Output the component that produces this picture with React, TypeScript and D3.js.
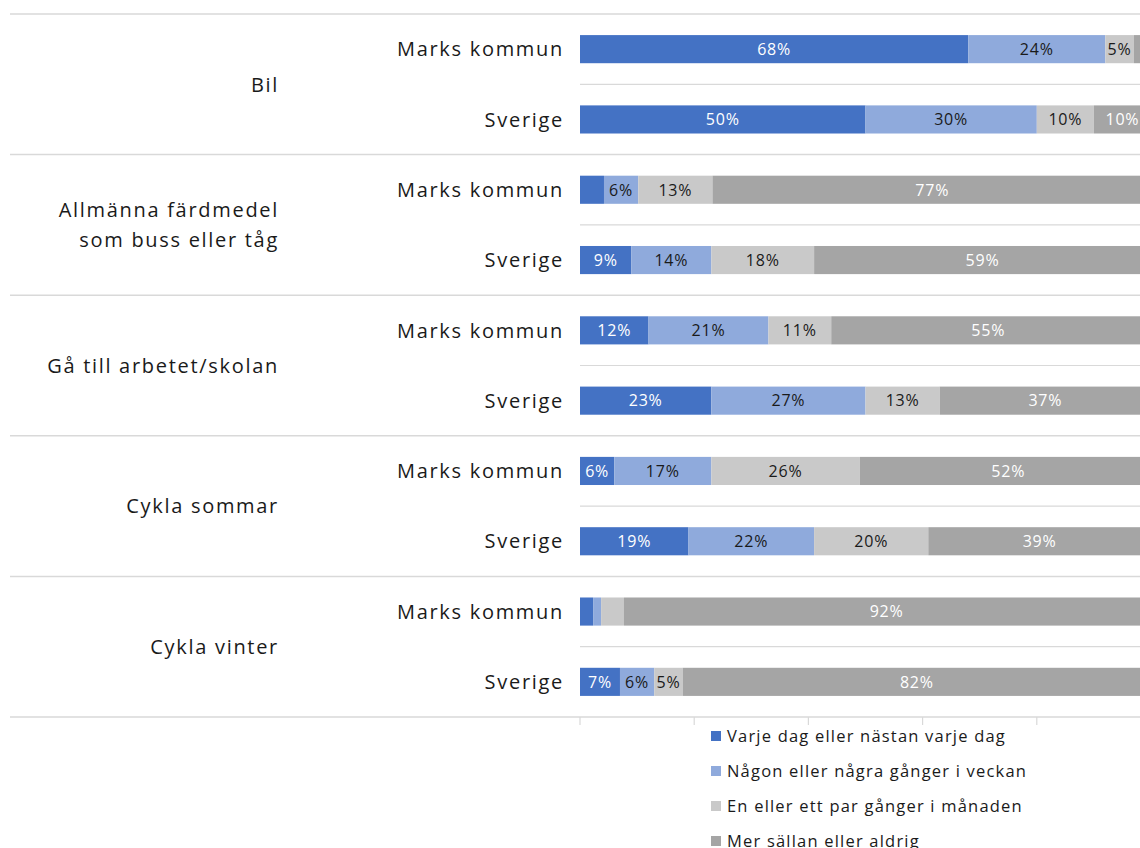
import React from "react";
import * as d3 from "d3";

const categories = ["Bil", "Allmänna färdmedel som buss eller tåg", "Gå till arbetet/skolan", "Cykla sommar", "Cykla vinter"];
const categoryLines = [["Bil"], ["Allmänna färdmedel", "som buss eller tåg"], ["Gå till arbetet/skolan"], ["Cykla sommar"], ["Cykla vinter"]];
const groups = ["Marks kommun", "Sverige"];
const seriesNames = [
  "Varje dag eller nästan varje dag",
  "Någon eller några gånger i veckan",
  "En eller ett par gånger i månaden",
  "Mer sällan eller aldrig",
];
// values[category][group] for each series
const varjeDag = [[68, 50], [4.2, 9], [12, 23], [6, 19], [2.3, 7]];
const naagonVecka = [[24, 30], [6, 14], [21, 27], [17, 22], [1.4, 6]];
const parManad = [[5, 10], [13, 18], [11, 13], [26, 20], [4, 5]];
const sallan = [[3, 10], [77, 59], [55, 37], [52, 39], [92, 82]];
const xTicks = [0, 20, 40, 60, 80, 100];

const colors = ["#4472C4", "#8FAADC", "#C9C9C9", "#A5A5A5"];
const labelColors = ["#FFFFFF", "#1A1A1A", "#1A1A1A", "#FFFFFF"];

export default function App() {
  const W = 1140, H = 848;
  const x = d3.scaleLinear().domain([0, 100]).range([580, 1151]);
  const yCat = d3.scaleBand().domain(categories).range([14, 717]).padding(0);
  const ySub = d3.scaleBand().domain(groups).range([0, yCat.bandwidth()]).paddingInner(0.6).paddingOuter(0.3);
  const seriesData = [varjeDag, naagonVecka, parManad, sallan];
  const font = "'Open Sans', sans-serif";
  const gridColor = "#D9D9D9";

  const bars: any[] = [];
  categories.forEach((cat, ci) => {
    groups.forEach((g, gi) => {
      let acc = 0;
      seriesData.forEach((s, si) => {
        const v = s[ci][gi];
        bars.push({ cat, g, si, v, x0: acc, x1: acc + v });
        acc += v;
      });
    });
  });

  return (
    <svg width={W} height={H} style={{ position: "absolute", left: 0, top: 0, overflow: "hidden" }} fontFamily={font}>
      <rect width={W} height={H} fill="#fff" />
      {categories.map((c, i) => (
        <line key={"sep" + i} x1={10} x2={W} y1={yCat(c)!} y2={yCat(c)!} stroke={gridColor} strokeWidth={1.5} />
      ))}
      {categories.map((c, i) => (
        <line key={"isep" + i} x1={580} x2={W} y1={yCat(c)! + yCat.bandwidth() / 2} y2={yCat(c)! + yCat.bandwidth() / 2} stroke={gridColor} strokeWidth={1.2} />
      ))}
      <line x1={10} x2={W} y1={717} y2={717} stroke={gridColor} strokeWidth={1.5} />
      {xTicks.map((t) => (
        <line key={"t" + t} x1={x(t)} x2={x(t)} y1={717} y2={725} stroke={gridColor} strokeWidth={1.2} />
      ))}
      {bars.map((b, i) => {
        const y0 = yCat(b.cat)! + ySub(b.g)!;
        const bw = ySub.bandwidth();
        return (
          <g key={"b" + i}>
            <rect x={x(b.x0)} y={y0} width={x(b.x1) - x(b.x0)} height={bw} fill={colors[b.si]} />
            {b.v >= 5 && (
              <text
                x={(x(b.x0) + x(b.x1)) / 2}
                y={y0 + bw / 2}
                dy="0.36em"
                textAnchor="middle"
                fontSize={16}
                letterSpacing={0.8}
                fill={labelColors[b.si]}
              >
                {Math.round(b.v) + "%"}
              </text>
            )}
          </g>
        );
      })}
      {categories.map((c) =>
        groups.map((g) => (
          <text key={c + g} x={564} y={yCat(c)! + ySub(g)! + ySub.bandwidth() / 2} dy="0.36em" textAnchor="end" fontSize={20} letterSpacing={1.7} fill="#1A1A1A">
            {g}
          </text>
        ))
      )}
      {categories.map((c, i) => {
        const lines = categoryLines[i];
        const cy = yCat(c)! + yCat.bandwidth() / 2;
        const lh = 30;
        return (
          <text key={"c" + i} x={279} textAnchor="end" fontSize={20} letterSpacing={1.7} fill="#1A1A1A">
            {lines.map((l, li) => (
              <tspan key={li} x={279} y={cy + (li - (lines.length - 1) / 2) * lh} dy="0.36em">
                {l}
              </tspan>
            ))}
          </text>
        );
      })}
      {seriesNames.map((n, i) => (
        <g key={"l" + i} transform={`translate(711, ${736 + i * 35})`}>
          <rect x={0} y={-5} width={10} height={10} fill={colors[i]} />
          <text x={16} y={0} dy="0.36em" fontSize={16.5} letterSpacing={1.2} fill="#1A1A1A">
            {n}
          </text>
        </g>
      ))}
    </svg>
  );
}
